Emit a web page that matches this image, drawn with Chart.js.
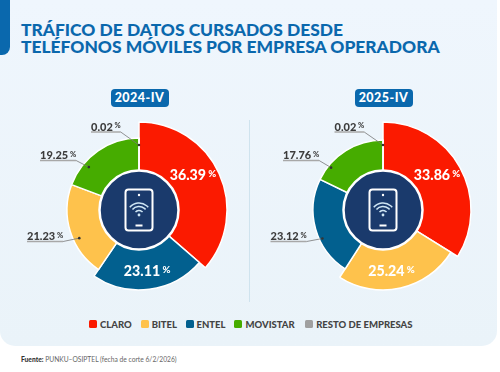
<!DOCTYPE html>
<html lang="es">
<head>
<meta charset="utf-8">
<script src="https://cdn.jsdelivr.net/npm/chart.js@4"></script>
<style>
  html, body { margin: 0; padding: 0; background: #fff; }
  body { position: relative; width: 500px; height: 372px; overflow: hidden; font-family: Lato, sans-serif; }
  #panel { position: absolute; left: 0; top: 0; width: 497px; height: 346px; background: linear-gradient(#eff6fd, #eaf3f9); border-radius: 0 0 15px 15px; }
  #tab { position: absolute; left: 0; top: 0; width: 10px; height: 55px; background: #0a68ad; border-radius: 0 0 8px 0; }
  #title { position: absolute; left: 21px; top: 21px; font-size: 17.4px; line-height: 17px; font-weight: 900; color: #0a68ad; white-space: nowrap; }
  .badge { position: absolute; top: 89px; width: 58px; height: 17.5px; line-height: 17.5px; background: #0a68ad; color: #fff; border-radius: 4px; text-align: center; font-size: 12.5px; letter-spacing: 0.5px; font-weight: 900; }
  #divider { position: absolute; left: 249px; top: 120px; width: 1px; height: 182px; background: #cfe3ee; }
  canvas { position: absolute; top: 110px; }
  #legend { position: absolute; left: 89px; top: 317px; height: 14px; display: flex; align-items: center; font-size: 9.5px; font-weight: 900; color: #444; white-space: nowrap; }
  #legend span { display: inline-block; }
  #legend i { display: inline-block; width: 8px; height: 8px; border-radius: 1.5px; margin-right: 3px; vertical-align: -0.5px; }
  #source { position: absolute; left: 21px; top: 355px; font-size: 6.7px; line-height: 8px; color: #666; white-space: nowrap; }
  #source b { color: #333; font-weight: 900; }
</style>
</head>
<body>
<div id="panel"></div>
<div id="tab"></div>
<div id="title">TRÁFICO DE DATOS CURSADOS DESDE<br>TELÉFONOS MÓVILES POR EMPRESA OPERADORA</div>
<div class="badge" id="badgeA" style="left:110.5px"></div>
<div class="badge" id="badgeB" style="left:354.5px"></div>
<div id="divider"></div>
<canvas id="chartA" width="250" height="200" style="left:14px"></canvas>
<canvas id="chartB" width="250" height="200" style="left:258px"></canvas>
<div id="legend"></div>
<div id="source"><b>Fuente:</b> PUNKU–OSIPTEL (fecha de corte 6/2/2026)</div>

<script>
const periods = ["2024-IV", "2025-IV"];
const legendNames = ["CLARO", "BITEL", "ENTEL", "MOVISTAR", "RESTO DE EMPRESAS"];
const categoriesA = ["CLARO", "ENTEL", "BITEL", "MOVISTAR", "RESTO DE EMPRESAS"];
const categoriesB = ["CLARO", "BITEL", "ENTEL", "MOVISTAR", "RESTO DE EMPRESAS"];
const valuesA = [36.39, 23.11, 21.23, 19.25, 0.02];
const valuesB = [33.86, 25.24, 23.12, 17.76, 0.02];

const colors = {
  "CLARO": "#fb1a00",
  "BITEL": "#fec24c",
  "ENTEL": "#02608f",
  "MOVISTAR": "#46ac00",
  "RESTO DE EMPRESAS": "#a0a0a0",
};

// each slice sticks out a different amount
const radiiA = [88, 80, 72, 72, 72];
const radiiB = [88, 80, 70, 70, 70];

// where along the slice the label or leader dot goes (frac of the arc, r from centre)
// x/y only for outside labels: start of the text relative to the centre
const labelsA = [
  { frac: 0.44, r: 64, inside: true },
  { frac: 0.498, r: 61.5, inside: true },
  { frac: 0.4, r: 66, x: -112, y: 26.5 },
  { frac: 0.287, r: 66, x: -99, y: -54.5 },
  { frac: 0.5, r: 65, x: -48, y: -83 },
];
const labelsB = [
  { frac: 0.473, r: 64, inside: true },
  { frac: 0.553, r: 62, inside: true },
  { frac: 0.385, r: 67, x: -112.5, y: 26.5 },
  { frac: 0.207, r: 67, x: -100, y: -54.5 },
  { frac: 0.5, r: 65, x: -48.5, y: -83 },
];

function drawIcon(ctx, cx, cy) {
  ctx.save();
  // centre disc
  ctx.beginPath();
  ctx.arc(cx, cy, 39.5, 0, Math.PI * 2);
  ctx.fillStyle = "#1a3a6c";
  ctx.fill();
  ctx.lineWidth = 2.5;
  ctx.strokeStyle = "#fff";
  ctx.stroke();

  // phone
  ctx.strokeStyle = "#fff";
  ctx.fillStyle = "#fff";
  ctx.lineWidth = 2;
  ctx.beginPath();
  ctx.roundRect(cx - 13.5, cy - 20.5, 27, 41, 3);
  ctx.stroke();
  ctx.beginPath();
  ctx.arc(cx, cy - 15, 1.2, 0, Math.PI * 2);
  ctx.fill();
  ctx.fillRect(cx - 3.5, cy + 14.5, 7, 2);

  // wifi
  ctx.strokeStyle = "#cfe6f4";
  ctx.lineWidth = 1.5;
  [4.5, 8.5, 12].forEach((r) => {
    ctx.beginPath();
    ctx.arc(cx, cy + 5, r, -Math.PI * 0.78, -Math.PI * 0.22);
    ctx.stroke();
  });
  ctx.beginPath();
  ctx.fillStyle = "#cfe6f4";
  ctx.arc(cx, cy + 5, 1.4, 0, Math.PI * 2);
  ctx.fill();
  ctx.restore();
}

function drawValue(ctx, value, x, y, size, color, align) {
  const num = value.toFixed(2);
  const pct = " %";
  ctx.fillStyle = color;
  ctx.textBaseline = "middle";
  ctx.textAlign = "left";
  ctx.font = `900 ${size}px Lato`;
  const w1 = ctx.measureText(num).width;
  ctx.font = `900 ${size * 0.68}px Lato`;
  const w2 = ctx.measureText(pct).width;
  const left = align === "center" ? x - (w1 + w2) / 2 : x;
  ctx.font = `900 ${size}px Lato`;
  ctx.fillText(num, left, y);
  ctx.font = `900 ${size * 0.68}px Lato`;
  ctx.fillText(pct, left + w1, y - size * 0.1);
  return w1 + w2;
}

// pushes every arc out to its own radius, the doughnut only knows one per ring
const sliceRadius = {
  id: "sliceRadius",
  afterDatasetsUpdate(chart, args, opts) {
    chart.getDatasetMeta(0).data.forEach((arc, i) => {
      arc.outerRadius = opts.radii[i];
    });
  },
};

const sliceLabels = {
  id: "sliceLabels",
  afterDatasetsDraw(chart, args, opts) {
    const ctx = chart.ctx;
    const values = chart.data.datasets[0].data;
    const arcs = chart.getDatasetMeta(0).data;
    const cx = arcs[0].x;
    const cy = arcs[0].y;

    drawIcon(ctx, cx, cy);

    arcs.forEach((arc, i) => {
      const lab = opts.layout[i];
      const a = arc.startAngle + (arc.endAngle - arc.startAngle) * lab.frac;
      const px = cx + Math.cos(a) * lab.r;
      const py = cy + Math.sin(a) * lab.r;

      if (lab.inside) {
        drawValue(ctx, values[i], px, py, 14.2, "#fff", "center");
        return;
      }

      const tx = cx + lab.x;
      const ty = cy + lab.y;
      const w = drawValue(ctx, values[i], tx, ty, 11, "#3c3c3c", "left");

      // underline, then leader to the dot
      ctx.strokeStyle = "#a8a8a8";
      ctx.lineWidth = 1.5;
      ctx.beginPath();
      ctx.moveTo(tx, ty + 5);
      ctx.lineTo(tx + w, ty + 5);
      ctx.stroke();
      ctx.strokeStyle = "#777";
      ctx.lineWidth = 0.8;
      ctx.beginPath();
      ctx.moveTo(tx + w, ty + 5);
      ctx.lineTo(px, py);
      ctx.stroke();
      ctx.fillStyle = "#333";
      ctx.beginPath();
      ctx.arc(px, py, 1.3, 0, Math.PI * 2);
      ctx.fill();
    });
  },
};

function makeChart(id, categories, values, radii, layout) {
  return new Chart(document.getElementById(id), {
    type: "doughnut",
    data: {
      labels: categories,
      datasets: [
        {
          data: values,
          backgroundColor: categories.map((c) => colors[c]),
          borderColor: "#fff",
          borderWidth: 1.5,
          radius: 88,
          cutout: 38,
        },
      ],
    },
    options: {
      responsive: false,
      animation: false,
      layout: { padding: 0 },
      plugins: {
        legend: { display: false },
        tooltip: { enabled: false },
        sliceRadius: { radii: radii },
        sliceLabels: { layout: layout },
      },
    },
    plugins: [sliceRadius, sliceLabels],
  });
}

document.getElementById("badgeA").textContent = periods[0];
document.getElementById("badgeB").textContent = periods[1];

const legendGaps = [9, 8.5, 9, 10.5, 0];
const legendEl = document.getElementById("legend");
legendNames.forEach((name, i) => {
  const item = document.createElement("span");
  item.style.marginRight = legendGaps[i] + "px";
  item.innerHTML = `<i style="background:${colors[name]}"></i>${name}`;
  legendEl.appendChild(item);
});

makeChart("chartA", categoriesA, valuesA, radiiA, labelsA);
makeChart("chartB", categoriesB, valuesB, radiiB, labelsB);
</script>
</body>
</html>
